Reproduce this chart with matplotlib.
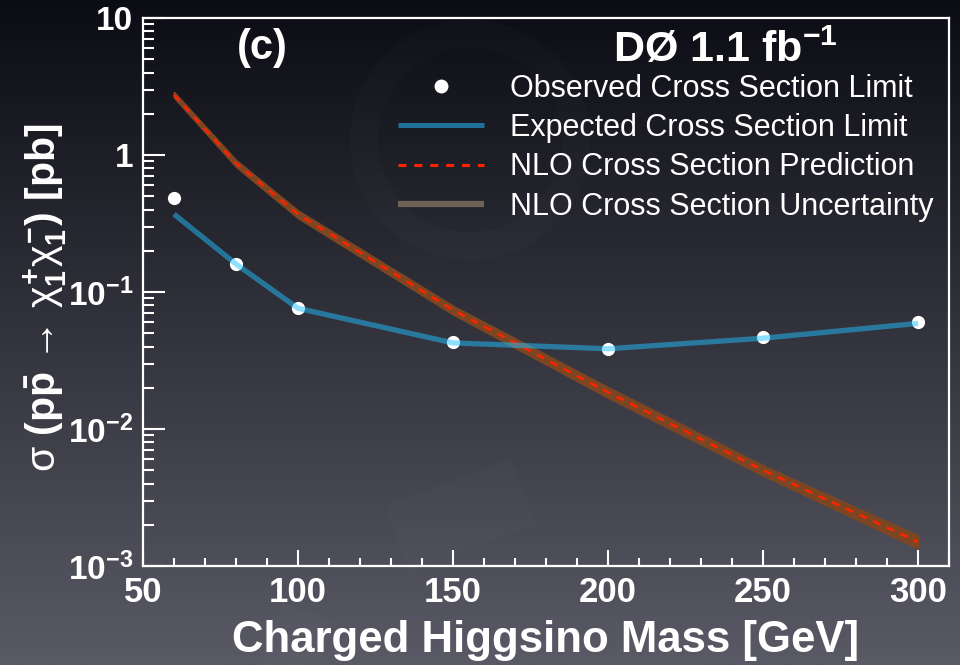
import numpy as np
import matplotlib
matplotlib.use("Agg")
import matplotlib.pyplot as plt
from matplotlib.lines import Line2D
from matplotlib.patches import Wedge, Rectangle
from matplotlib.ticker import FixedLocator, FixedFormatter, LogLocator, MultipleLocator, NullFormatter

plt.rcParams['font.family'] = ['Liberation Sans', 'DejaVu Sans']
plt.rcParams['mathtext.fontset'] = 'custom'
plt.rcParams['mathtext.rm'] = 'Liberation Sans:bold'
plt.rcParams['mathtext.bf'] = 'Liberation Sans:bold'
plt.rcParams['mathtext.it'] = 'Liberation Sans'
plt.rcParams['mathtext.sf'] = 'Liberation Sans:bold'

# ---- data ----
mass = [60, 80, 100, 150, 200, 250, 300]
observed = [0.485, 0.16, 0.076, 0.0435, 0.0385, 0.047, 0.060]
expected = [0.37, 0.16, 0.076, 0.0425, 0.0385, 0.046, 0.059]
nlo = [2.75, 0.87, 0.37, 0.074, 0.0185, 0.0050, 0.00150]
nlo_lo = [2.64, 0.825, 0.348, 0.069, 0.0170, 0.0046, 0.00135]
nlo_hi = [2.87, 0.915, 0.392, 0.079, 0.0201, 0.0054, 0.00166]

ytick_vals = [1e-3, 1e-2, 1e-1, 1, 10]
ytick_labels = [r'$10^{-3}$', r'$10^{-2}$', r'$10^{-1}$', '1', '10']
xtick_vals = [50, 100, 150, 200, 250, 300]

W, H = 960, 665
fig = plt.figure(figsize=(W / 100, H / 100), dpi=100)

# background gradient
bg = fig.add_axes([0, 0, 1, 1], zorder=-10)
top = np.array([12, 12, 20]) / 255.0
bot = np.array([90, 90, 102]) / 255.0
t = np.linspace(0, 1, 256)[:, None]
grad = top[None, None, :] * (1 - t[..., None]) + bot[None, None, :] * t[..., None]
grad = np.repeat(grad, 2, axis=1)
bg.imshow(grad, aspect='auto', extent=[0, W, H, 0], interpolation='bilinear')
bg.set_xlim(0, W)
bg.set_ylim(H, 0)
# faint watermark shapes
bg.add_patch(Wedge((470, 140), 120, 0, 360, width=28, color='white', alpha=0.015, lw=0))
bg.add_patch(Wedge((1100, 900), 870, 120, 200, width=55, color='white', alpha=0.015, lw=0))
bg.add_patch(Wedge((1100, 900), 700, 110, 190, width=45, color='white', alpha=0.012, lw=0))
bg.add_patch(Rectangle((385, 505), 135, 70, angle=-20, color='white', alpha=0.012, lw=0))
bg.axis('off')

ax = fig.add_axes([143 / W, 1 - 566 / H, (949 - 143) / W, (566 - 18) / H])
ax.set_facecolor('none')
ax.set_yscale('log')
ax.set_xlim(50, 310)
ax.set_ylim(1e-3, 10)

# NLO band + prediction
ax.fill_between(mass, nlo_lo, nlo_hi, color='#7d4622', lw=1.5, edgecolor='#7d4622', zorder=2)
ax.plot(mass, nlo, color='#ff2200', lw=1.8, linestyle=(0, (3.2, 2.8)), zorder=3)

# observed markers, expected line on top (semi-transparent)
ax.plot(mass, observed, 'o', color='white', ms=9.5, mec='none', zorder=4)
ax.plot(mass, expected, color='#20c0ff', alpha=0.5, lw=3.8, solid_capstyle='butt', zorder=5)

# axes styling
for s in ax.spines.values():
    s.set_color('white')
    s.set_linewidth(1.6)

ax.yaxis.set_major_locator(FixedLocator(ytick_vals))
ax.yaxis.set_major_formatter(FixedFormatter(ytick_labels))
ax.yaxis.set_minor_locator(LogLocator(base=10, subs=np.arange(2, 10)))
ax.yaxis.set_minor_formatter(NullFormatter())
ax.xaxis.set_major_locator(FixedLocator(xtick_vals))
ax.xaxis.set_minor_locator(MultipleLocator(10))

ax.tick_params(axis='y', which='major', direction='in', length=16, width=1.5, color='white',
               labelcolor='white', labelsize=24, pad=7, right=False)
ax.tick_params(axis='y', which='minor', direction='in', length=8, width=1.5, color='white', right=False)
ax.tick_params(axis='x', which='major', direction='in', length=11.5, width=1.5, color='white',
               labelcolor='white', labelsize=25, pad=7, top=False)
ax.tick_params(axis='x', which='minor', direction='in', length=5.5, width=1.5, color='white', top=False)
for lab in ax.get_xticklabels() + ax.get_yticklabels():
    lab.set_fontweight('bold')

ax.set_xlabel('Charged Higgsino Mass [GeV]', color='white', fontsize=31.5, fontweight='bold', labelpad=8)
ax.set_ylabel(r'$\sigma$ (p$\mathrm{\bar{p}}$ → $\chi^{+}_{1}\chi^{-}_{1}$) [pb]',
              color='white', fontsize=29.5, fontweight='bold')
ax.yaxis.set_label_coords(-0.092, 0.49)

ax.text(0.148, 0.945, '(c)', transform=ax.transAxes, color='white', fontsize=30, fontweight='bold',
        ha='center', va='center')
ax.text(725 / W, 1 - 50 / H, r'DØ 1.1 fb$^{\mathregular{-1}}$', transform=fig.transFigure, color='white',
        fontsize=31, fontweight='bold', ha='center', va='center')

handles = [
    Line2D([], [], marker='o', color='white', ls='none', ms=10, mec='none'),
    Line2D([], [], color='#1f7098', lw=3.6, solid_capstyle='butt'),
    Line2D([], [], color='#ff2200', lw=2.2, linestyle=(0, (2.6, 2.6))),
    Line2D([], [], color='#6e6256', lw=4.5, solid_capstyle='butt'),
]
labels = ['Observed Cross Section Limit', 'Expected Cross Section Limit',
          'NLO Cross Section Prediction', 'NLO Cross Section Uncertainty']
leg = ax.legend(handles, labels, loc='upper left', bbox_to_anchor=(398 / W, 1 - 74 / H),
                bbox_transform=fig.transFigure, frameon=False, fontsize=22, borderpad=0,
                handlelength=2.8, handletextpad=0.86, labelspacing=0.30, borderaxespad=0)
for txt in leg.get_texts():
    txt.set_color('white')

fig.savefig('out.png', dpi=100)
